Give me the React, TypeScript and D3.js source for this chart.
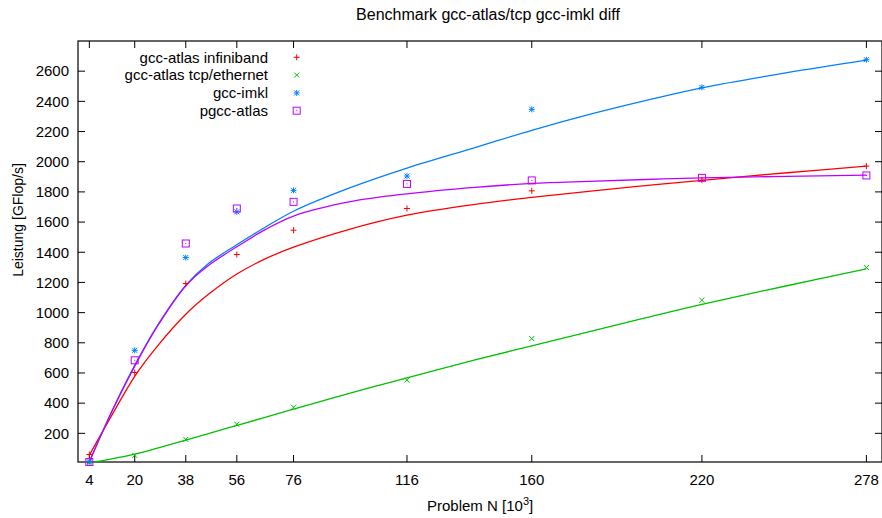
import * as d3 from 'd3';

// Benchmark: performance vs problem size, with fitted curves

const xTickValues = [4, 20, 38, 56, 76, 116, 160, 220, 278];
const yTickValues = [200, 400, 600, 800, 1000, 1200, 1400, 1600, 1800, 2000, 2200, 2400, 2600];

// measured points
const problemN = [4, 20, 38, 56, 76, 116, 160, 220, 278];
const atlasInfiniband = [60, 603, 1193, 1385, 1546, 1690, 1807, 1878, 1971];
const atlasTcp = [4, 54, 160, 260, 373, 552, 828, 1082, 1299];
const imkl = [12, 750, 1365, 1668, 1810, 1905, 2347, 2493, 2676];
const pgccAtlas = [10, 684, 1458, 1690, 1734, 1853, 1876, 1893, 1909];

const fitN = [4, 12, 20, 28, 38, 46, 56, 66, 76, 96, 116, 140, 160, 180, 200, 220, 250, 278];
const fitInfiniband = [55, 322, 578, 778, 989, 1121, 1256, 1356, 1434, 1554, 1646, 1718, 1764, 1804, 1841, 1877, 1927, 1971];
const fitTcp = [5, 31, 62, 102, 155, 198, 252, 306, 360, 466, 568, 686, 780, 873, 965, 1055, 1178, 1290];
const fitImkl = [12, 348, 650, 914, 1180, 1325, 1450, 1566, 1672, 1828, 1958, 2094, 2208, 2312, 2405, 2490, 2590, 2673];
const fitPgcc = [10, 348, 645, 910, 1178, 1312, 1436, 1550, 1640, 1735, 1787, 1830, 1856, 1870, 1882, 1893, 1903, 1911];

const seriesNames = ['gcc-atlas infiniband', 'gcc-atlas tcp/ethernet', 'gcc-imkl', 'pgcc-atlas'];
const seriesColors = ['#ff0000', '#00c000', '#0080ff', '#c000ff'];
const seriesPoints = [atlasInfiniband, atlasTcp, imkl, pgccAtlas];
const seriesFits = [fitInfiniband, fitTcp, fitImkl, fitPgcc];

const W = 882;
const H = 518;
const left = 78, right = 882, top = 41, bottom = 462;
const font = '"Liberation Sans", Arial, Helvetica, sans-serif';

function Marker({ kind, x, y, color }: { kind: number; x: number; y: number; color: string }) {
  const s = 3;
  const sw = 1;
  if (kind === 0) {
    return (
      <path d={`M${x - s},${y}H${x + s}M${x},${y - s}V${y + s}`} stroke={color} strokeWidth={sw} fill="none" />
    );
  }
  if (kind === 1) {
    const d = 2.5;
    return (
      <path d={`M${x - d},${y - d}L${x + d},${y + d}M${x - d},${y + d}L${x + d},${y - d}`} stroke={color} strokeWidth={sw} fill="none" />
    );
  }
  if (kind === 2) {
    const d = 2.5;
    return (
      <path
        d={`M${x - s},${y}H${x + s}M${x},${y - s}V${y + s}M${x - d},${y - d}L${x + d},${y + d}M${x - d},${y + d}L${x + d},${y - d}`}
        stroke={color}
        strokeWidth={sw}
        fill="none"
      />
    );
  }
  return (
    <g>
      <rect x={x - 3.5} y={y - 3.5} width={7} height={7} stroke={color} strokeWidth={sw} fill="none" />
      <rect x={x - 0.5} y={y - 0.5} width={1} height={1} fill={color} />
    </g>
  );
}

export default function App() {
  const x = d3.scaleLinear().domain([0, 283.5]).range([left, right]);
  const y = d3.scaleLinear().domain([10, 2800]).range([bottom, top]);

  const line = d3
    .line<[number, number]>()
    .x((d) => x(d[0]))
    .y((d) => y(d[1]))
    .curve(d3.curveCatmullRom.alpha(0.5));

  const tick = 7;

  return (
    <svg
      width={W}
      height={H}
      style={{ position: 'absolute', left: 0, top: 0, background: '#fff' }}
      fontFamily={font}
    >
      <rect x={0} y={0} width={W} height={H} fill="#fff" />

      {/* title */}
      <text x={488} y={20} fontSize={16} textAnchor="middle" fill="#000">
        Benchmark gcc-atlas/tcp gcc-imkl diff
      </text>

      {/* ticks */}
      {yTickValues.map((v) => (
        <g key={'y' + v}>
          <line x1={left} x2={left + tick} y1={y(v)} y2={y(v)} stroke="#000" />
          <line x1={right - tick} x2={right} y1={y(v)} y2={y(v)} stroke="#000" />
          <text x={69} y={y(v) + 5.3} fontSize={15} textAnchor="end" fill="#000">
            {v}
          </text>
        </g>
      ))}
      {xTickValues.map((v) => (
        <g key={'x' + v}>
          <line x1={x(v)} x2={x(v)} y1={bottom} y2={bottom - tick} stroke="#000" />
          <line x1={x(v)} x2={x(v)} y1={top} y2={top + tick} stroke="#000" />
          <text x={x(v)} y={484.5} fontSize={15} textAnchor="middle" fill="#000">
            {v}
          </text>
        </g>
      ))}

      {/* border */}
      <rect x={left} y={top} width={right - left} height={bottom - top} fill="none" stroke="#000" strokeWidth={1.2} />

      {/* axis labels */}
      <text transform="translate(23,220) rotate(-90)" fontSize={14} textAnchor="middle" fill="#000">
        Leistung [GFlop/s]
      </text>
      <text x={427} y={511} fontSize={15} fill="#000">
        Problem N [10
        <tspan dy={-6} fontSize={11}>3</tspan>
        <tspan dy={6}>]</tspan>
      </text>

      {/* fitted curves */}
      {seriesFits.map((fit, i) => (
        <path
          key={'fit' + i}
          d={line(fitN.map((n, j) => [n, fit[j]] as [number, number])) || ''}
          stroke={seriesColors[i]}
          strokeWidth={1.3}
          fill="none"
        />
      ))}

      {/* measured points */}
      {seriesPoints.map((pts, i) => (
        <g key={'pts' + i}>
          {problemN.map((n, j) => (
            <Marker key={j} kind={i} x={x(n)} y={y(pts[j])} color={seriesColors[i]} />
          ))}
        </g>
      ))}

      {/* legend */}
      {seriesNames.map((name, i) => {
        const ly = 57.3 + i * 17.8;
        return (
          <g key={'leg' + i}>
            <text x={268} y={ly + 5.3} fontSize={15} textAnchor="end" fill="#000">
              {name}
            </text>
            <Marker kind={i} x={296.7} y={ly} color={seriesColors[i]} />
          </g>
        );
      })}
    </svg>
  );
}
